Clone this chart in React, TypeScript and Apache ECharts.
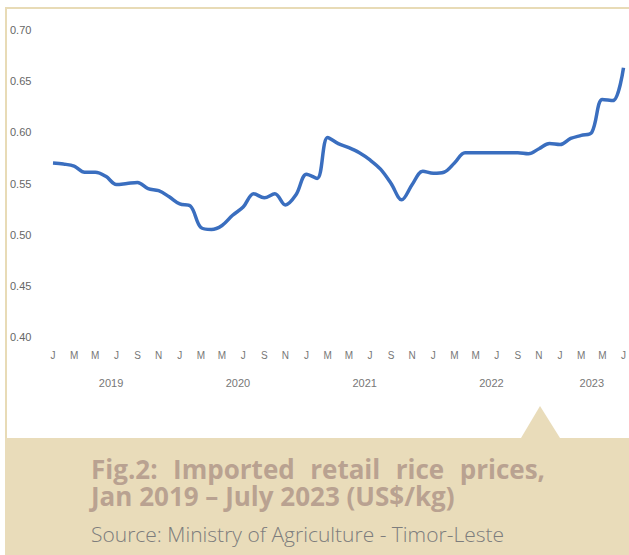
import React, { useEffect, useRef } from "react";
import * as echarts from "echarts";

const monthLetters = ["J", "F", "M", "A", "M", "J", "J", "A", "S", "O", "N", "D"];
const monthCount = 55; // Jan 2019 – Jul 2023
const months: string[] = Array.from({ length: monthCount }, (_, i) => monthLetters[i % 12]);

// Imported retail rice price, US$/kg
const prices: number[] = [
  0.570, 0.569, 0.567, 0.561, 0.561, 0.557, 0.549, 0.550, 0.551, 0.545, 0.543, 0.537,
  0.530, 0.528, 0.507, 0.505, 0.509, 0.519, 0.527, 0.540, 0.536, 0.540, 0.529, 0.539,
  0.559, 0.555, 0.595, 0.589, 0.585, 0.580, 0.573, 0.564, 0.550, 0.534, 0.549, 0.562,
  0.560, 0.561, 0.570, 0.580, 0.580, 0.580, 0.580, 0.580, 0.580, 0.579, 0.584, 0.589,
  0.588, 0.594, 0.597, 0.600, 0.632, 0.631, 0.663,
];

// Year labels placed at the middle of each year's months (month index)
const yearLabels: { pos: number; label: string }[] = [
  { pos: 5.5, label: "2019" },
  { pos: 17.5, label: "2020" },
  { pos: 29.5, label: "2021" },
  { pos: 41.5, label: "2022" },
  { pos: 51, label: "2023" },
];

const yTicks = { min: 0.4, max: 0.7, interval: 0.05 };

const titleWords: string[] = ["Fig.2:", "Imported", "retail", "rice", "prices,"];
const titleLine2 = "Jan 2019 – July 2023 (US$/kg)";
const sourceText = "Source: Ministry of Agriculture - Timor-Leste";

export default function App() {
  const ref = useRef<HTMLDivElement>(null);
  useEffect(() => {
    if (!ref.current) return;
    const chart = echarts.init(ref.current, undefined, { renderer: "svg" });
    const beige = "#e9dcba";
    const titleColor = "#b9a291";
    const titleFontFamily = "'Open Sans', 'Noto Sans', sans-serif";
    const titleFont = `bold 26px ${titleFontFamily}`;

    // justify first title line between x=91 and x=545
    const ctx = document.createElement("canvas").getContext("2d");
    let widths: number[] = titleWords.map((w) => w.length * 14);
    if (ctx) {
      ctx.font = titleFont;
      widths = titleWords.map((w) => ctx.measureText(w).width);
    }
    const left = 91;
    const right = 545;
    const total = widths.reduce((a, b) => a + b, 0);
    const gap = (right - left - total) / (titleWords.length - 1);
    const wordX: number[] = [];
    let cx = left;
    widths.forEach((w) => {
      wordX.push(cx);
      cx += w + gap;
    });

    chart.setOption({
      animation: false,
      backgroundColor: "#ffffff",
      grid: { left: 53, right: 5, top: 30, bottom: 555 - 337 },
      xAxis: [
        {
          type: "category",
          data: months,
          boundaryGap: false,
          axisLine: { show: false },
          axisTick: { show: false },
          axisLabel: {
            interval: 1,
            color: "#777777",
            fontSize: 10,
            fontFamily: "'Liberation Sans', Arial, sans-serif",
            margin: 13,
          },
        },
        {
          type: "value",
          position: "bottom",
          min: 0,
          max: monthCount - 1,
          interval: 0.5,
          axisLine: { show: false },
          axisTick: { show: false },
          splitLine: { show: false },
          axisLabel: {
            color: "#777777",
            fontSize: 11,
            fontFamily: "'Liberation Sans', Arial, sans-serif",
            margin: 40,
            formatter: (v: number) => {
              const f = yearLabels.find((y) => Math.abs(y.pos - v) < 1e-6);
              return f ? f.label : "";
            },
          },
        },
      ],
      yAxis: {
        type: "value",
        min: yTicks.min,
        max: yTicks.max,
        interval: yTicks.interval,
        axisLine: { show: false },
        axisTick: { show: false },
        splitLine: { show: false },
        axisLabel: {
          align: "left",
          margin: 43,
          color: "#666666",
          fontSize: 11,
          fontFamily: "'Liberation Sans', Arial, sans-serif",
          formatter: (v: number) => v.toFixed(2),
        },
      },
      series: [
        {
          type: "line",
          xAxisIndex: 0,
          data: prices,
          smooth: 0.35,
          symbol: "none",
          lineStyle: { color: "#3a6ebf", width: 3.5 },
        },
      ],
      graphic: [
        { type: "line", shape: { x1: 5, y1: 8, x2: 629, y2: 8 }, style: { stroke: "#e8dbb6", lineWidth: 2 } },
        { type: "line", shape: { x1: 6, y1: 8, x2: 6, y2: 438 }, style: { stroke: "#e8dbb6", lineWidth: 2 } },
        { type: "rect", shape: { x: 5, y: 438, width: 624, height: 117 }, style: { fill: beige } },
        { type: "polygon", shape: { points: [[521, 438], [540, 406], [560, 438]] }, style: { fill: beige } },
        ...titleWords.map((w, i) => ({
          type: "text",
          x: wordX[i],
          y: 469,
          style: {
            text: w,
            fill: titleColor,
            font: titleFont,
            verticalAlign: "middle",
          },
        })),
        {
          type: "text",
          x: 91,
          y: 496,
          style: {
            text: titleLine2,
            fill: titleColor,
            font: titleFont,
            verticalAlign: "middle",
          },
        },
        {
          type: "text",
          x: 91,
          y: 534,
          style: {
            text: sourceText,
            fill: "#7d7d7d",
            font: `300 21px ${titleFontFamily}`,
            verticalAlign: "middle",
          },
        },
      ],
    });
    return () => chart.dispose();
  }, []);
  return (
    <div
      ref={ref}
      style={{ position: "fixed", left: 0, top: 0, width: 629, height: 555 }}
    />
  );
}
